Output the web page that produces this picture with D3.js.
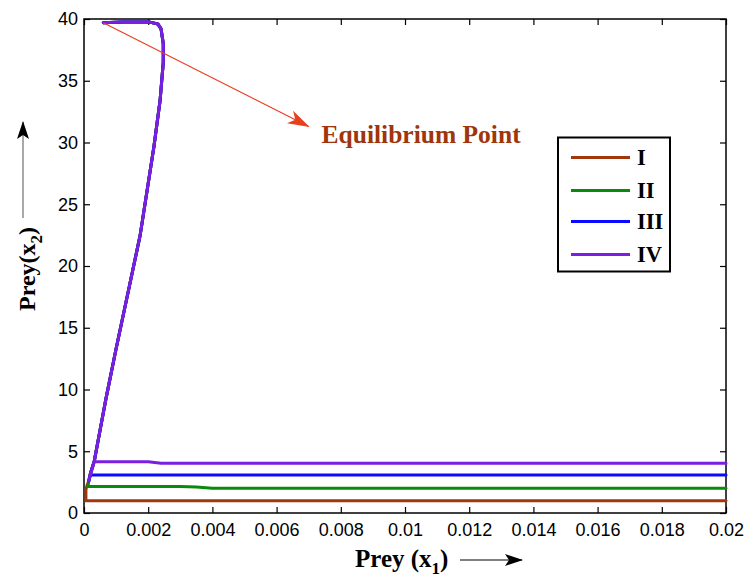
<!DOCTYPE html>
<html>
<head>
<meta charset="utf-8">
<script src="https://cdn.jsdelivr.net/npm/d3@7"></script>
<style>
  html, body { margin: 0; padding: 0; background: #fff; }
  svg { display: block; }
</style>
</head>
<body>
<svg id="chart" width="748" height="582"></svg>
<script>
// Shared trajectory trunk: every orbit climbs this path to the equilibrium
const trunkX = [0.00015, 0.0002, 0.00032, 0.0005, 0.00068, 0.0010, 0.0014, 0.00175,
                0.00218, 0.00237, 0.00247, 0.00247, 0.0024, 0.0023, 0.00205, 0.0012, 0.0006];
const trunkY = [2.6, 3.2, 4.2, 6.7, 9.2, 13.3, 18.2, 22.5,
                29.7, 33.4, 36.5, 38.0, 39.2, 39.6, 39.75, 39.75, 39.7];

// Initial legs of each orbit (before joining the trunk)
const legIX = [0.02, 0.00006, 0.00006, 0.00009];
const legIY = [1.0, 1.0, 1.9, 2.2];
const legIIX = [0.02, 0.0040, 0.0035, 0.0030, 0.00012];
const legIIY = [2.0, 2.0, 2.1, 2.15, 2.15];
const legIIIX = [0.02, 0.0002];
const legIIIY = [3.07, 3.07];
const legIVX = [0.02, 0.0024, 0.0020, 0.00032];
const legIVY = [4.03, 4.03, 4.15, 4.15];

const seriesNames = ["I", "II", "III", "IV"];
const seriesColors = ["#a0380c", "#0a8a0a", "#0a0aff", "#7a1fe0"];

const xTicks = [0, 0.002, 0.004, 0.006, 0.008, 0.01, 0.012, 0.014, 0.016, 0.018, 0.02];
const xTickLabels = ["0", "0.002", "0.004", "0.006", "0.008", "0.01", "0.012", "0.014", "0.016", "0.018", "0.02"];
const yTicks = [0, 5, 10, 15, 20, 25, 30, 35, 40];

const equilibrium = [0.0006, 39.7];
const arrowTip = [0.0070, 31.3];
const annotationAt = [0.0074, 29.95];

const svg = d3.select("#chart");
const m = { left: 84, top: 19, right: 22, bottom: 69 };
const W = 748 - m.left - m.right;
const H = 582 - m.top - m.bottom;

const x = d3.scaleLinear().domain([0, 0.02]).range([m.left, m.left + W]);
const y = d3.scaleLinear().domain([0, 40]).range([m.top + H, m.top]);

const serif = "'Liberation Serif', 'Times New Roman', serif";
const sans = "'Liberation Sans', Arial, sans-serif";

svg.append("defs").html(`
  <marker id="headBlack" viewBox="0 0 18 12" refX="17" refY="6" markerWidth="18" markerHeight="12" markerUnits="userSpaceOnUse" orient="auto">
    <path d="M0,0 L18,6 L0,12 L4,6 Z" fill="#000"/>
  </marker>
  <marker id="headRed" viewBox="0 0 22 14" refX="21" refY="7" markerWidth="22" markerHeight="14" markerUnits="userSpaceOnUse" orient="auto">
    <path d="M0,0 L22,7 L0,14 L6,7 Z" fill="#e8401c"/>
  </marker>`);

// Axes with inward ticks on all four sides
const tickLen = 6;
svg.append("g").attr("transform", `translate(0,${m.top + H})`)
  .call(d3.axisBottom(x).tickValues(xTicks).tickFormat((d, i) => xTickLabels[i]).tickSizeInner(-tickLen).tickSizeOuter(0).tickPadding(10));
svg.append("g").attr("transform", `translate(0,${m.top})`)
  .call(d3.axisTop(x).tickValues(xTicks).tickFormat("").tickSizeInner(-tickLen).tickSizeOuter(0));
svg.append("g").attr("transform", `translate(${m.left},0)`)
  .call(d3.axisLeft(y).tickValues(yTicks).tickSizeInner(-tickLen).tickSizeOuter(0).tickPadding(6));
svg.append("g").attr("transform", `translate(${m.left + W},0)`)
  .call(d3.axisRight(y).tickValues(yTicks).tickFormat("").tickSizeInner(-tickLen).tickSizeOuter(0));

svg.selectAll(".domain").remove();
svg.selectAll(".tick line").attr("stroke", "#000").attr("stroke-width", 1.2);
svg.selectAll(".tick text").attr("font-family", sans).attr("font-size", 18).attr("fill", "#000");

svg.append("rect").attr("x", m.left).attr("y", m.top).attr("width", W).attr("height", H)
  .attr("fill", "none").attr("stroke", "#000").attr("stroke-width", 1.5);

// Trajectories
const legs = [[legIX, legIY], [legIIX, legIIY], [legIIIX, legIIIY], [legIVX, legIVY]];
const line = d3.line().x(d => x(d[0])).y(d => y(d[1]));
const trunk = trunkX.map((v, i) => [v, trunkY[i]]);
legs.forEach(([lx, ly], k) => {
  const pts = lx.map((v, i) => [v, ly[i]]).concat(trunk);
  svg.append("path").attr("d", line(pts))
    .attr("fill", "none").attr("stroke", seriesColors[k]).attr("stroke-width", 3)
    .attr("stroke-linejoin", "round").attr("stroke-linecap", "round");
});

// Equilibrium annotation
svg.append("line")
  .attr("x1", x(equilibrium[0])).attr("y1", y(equilibrium[1]))
  .attr("x2", x(arrowTip[0])).attr("y2", y(arrowTip[1]))
  .attr("stroke", "#e8401c").attr("stroke-width", 1.2).attr("marker-end", "url(#headRed)");
svg.append("text").attr("x", x(annotationAt[0])).attr("y", y(annotationAt[1]))
  .attr("font-family", serif).attr("font-weight", "bold").attr("font-size", 25.5)
  .attr("fill", "#a0350a").text("Equilibrium Point");

// Legend
const lg = svg.append("g");
lg.append("rect").attr("x", 558).attr("y", 137.5).attr("width", 112).attr("height", 134)
  .attr("fill", "#fff").attr("stroke", "#000").attr("stroke-width", 2);
const rowY = [157.5, 190.5, 221.5, 254.5];
seriesNames.forEach((name, i) => {
  lg.append("line").attr("x1", 571).attr("x2", 630).attr("y1", rowY[i]).attr("y2", rowY[i])
    .attr("stroke", seriesColors[i]).attr("stroke-width", 3);
  lg.append("text").attr("x", 637).attr("y", rowY[i] + 7.5)
    .attr("font-family", serif).attr("font-weight", "bold").attr("font-size", 22.5)
    .attr("fill", "#000").text(name);
});

// Axis titles with direction arrows
const xt = svg.append("text").attr("x", 355).attr("y", 567)
  .attr("font-family", serif).attr("font-weight", "bold").attr("font-size", 25).attr("fill", "#000");
xt.append("tspan").text("Prey (x");
xt.append("tspan").attr("font-size", 17).attr("dy", 7).text("1");
xt.append("tspan").attr("dy", -7).text(")");
svg.append("line").attr("x1", 460).attr("x2", 522).attr("y1", 560).attr("y2", 560)
  .attr("stroke", "#000").attr("stroke-width", 1).attr("marker-end", "url(#headBlack)");

const yt = svg.append("text").attr("transform", "translate(35,311) rotate(-90)")
  .attr("font-family", serif).attr("font-weight", "bold").attr("font-size", 24).attr("fill", "#000");
yt.append("tspan").text("Prey(x");
yt.append("tspan").attr("font-size", 17).attr("dy", 7).text("2");
yt.append("tspan").attr("dy", -7).text(")");
svg.append("line").attr("x1", 23).attr("x2", 23).attr("y1", 218).attr("y2", 122)
  .attr("stroke", "#555").attr("stroke-width", 1).attr("marker-end", "url(#headBlack)");
</script>
</body>
</html>
